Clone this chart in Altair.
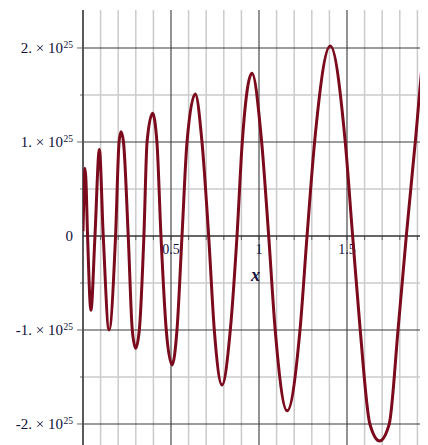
import altair as alt
import pandas as pd

# ---- values (y in units of 1e25) ----
curve_x = [0.000, 0.005, 0.011, 0.016, 0.026, 0.045, 0.068, 0.093, 0.115, 0.148,
           0.185, 0.205, 0.216, 0.230, 0.257, 0.280, 0.299, 0.320, 0.346, 0.364,
           0.395, 0.420, 0.443, 0.473, 0.506, 0.534, 0.5625, 0.591, 0.638, 0.676,
           0.714, 0.746, 0.790, 0.837, 0.875, 0.905, 0.960, 1.015, 1.055, 1.092,
           1.160, 1.233, 1.273, 1.316, 1.405, 1.490, 1.532, 1.575, 1.630, 1.685,
           1.740, 1.790, 1.837, 1.888, 1.939, 1.960]
curve_y = [0.05, 0.45, 0.72, 0.62, 0.00, -0.79, 0.00, 0.92, 0.00, -1.00,
           0.00, 1.00, 1.11, 1.00, 0.00, -1.00, -1.195, -1.00, 0.00, 1.00,
           1.305, 1.00, 0.00, -1.00, -1.372, -1.00, 0.00, 1.00, 1.51, 1.00,
           0.00, -1.00, -1.585, -1.00, 0.00, 1.00, 1.73, 1.00, 0.00, -1.00,
           -1.86, -1.00, 0.00, 1.00, 2.02, 1.00, 0.00, -1.00, -2.00, -2.18,
           -2.00, -1.00, 0.00, 1.00, 2.00, 2.19]

x_minor = [0.1, 0.2, 0.3, 0.4, 0.6, 0.7, 0.8, 0.9, 1.1, 1.2, 1.3, 1.4, 1.6, 1.7, 1.8, 1.9]
x_major = [0.5, 1.0, 1.5]
x_tick_labels = ["0.5", "1", "1.5"]
y_minor = [-1.5, -0.5, 0.5, 1.5]
y_major = [-2, -1, 1, 2]
y_tick_labels = ["-2. \u00d7 10", "-1. \u00d7 10", "1. \u00d7 10", "2. \u00d7 10"]
y_exponent = "25"
zero_label = "0"
x_title = "x"

PLOT_W = 337
PLOT_H = 435
PX_PER_X = 176.0
PX_PER_Y = 94.0
XDOM = [0, PLOT_W / PX_PER_X]
YTOP = 2.404
YDOM = [YTOP - PLOT_H / PX_PER_Y, YTOP]

FONT = "Liberation Serif"
TXT = "#10103a"
CURVE = "#7a0a1c"

xs = alt.Scale(domain=XDOM, nice=False, zero=False)
ys = alt.Scale(domain=YDOM, nice=False, zero=False)

def X(f="x"):
    return alt.X(f"{f}:Q", scale=xs, axis=None)

def Y(f="y"):
    return alt.Y(f"{f}:Q", scale=ys, axis=None)

vminor = alt.Chart(pd.DataFrame({"x": x_minor})).mark_rule(color="#cbcbcb", strokeWidth=1.5).encode(x=X())
hminor = alt.Chart(pd.DataFrame({"y": y_minor})).mark_rule(color="#cbcbcb", strokeWidth=1.5).encode(y=Y())
vmajor = alt.Chart(pd.DataFrame({"x": x_major})).mark_rule(color="#3a3a3a", strokeWidth=1.1).encode(x=X())
hmajor = alt.Chart(pd.DataFrame({"y": y_major})).mark_rule(color="#3a3a3a", strokeWidth=1.1).encode(y=Y())

yaxis_line = alt.Chart(pd.DataFrame({"x": [0]})).mark_rule(color="#5a5a5a", strokeWidth=2).encode(x=X())
xaxis_line = alt.Chart(pd.DataFrame({"y": [0]})).mark_rule(color="#333333", strokeWidth=1.6).encode(y=Y())

xt = x_minor + x_major
xticks = alt.Chart(pd.DataFrame({"x": xt, "y": [0] * len(xt)})).mark_tick(
    orient="vertical", size=4, thickness=1, yOffset=2, color="#333333").encode(x=X(), y=Y())
yticks_minor = alt.Chart(pd.DataFrame({"x": [0] * len(y_minor), "y": y_minor})).mark_tick(
    orient="horizontal", size=3, thickness=1, xOffset=-1.5, color="#333333").encode(x=X(), y=Y())
yticks_major = alt.Chart(pd.DataFrame({"x": [0] * len(y_major), "y": y_major})).mark_tick(
    orient="horizontal", size=6, thickness=1, xOffset=-3, color="#333333").encode(x=X(), y=Y())

xlab = alt.Chart(pd.DataFrame({"x": x_major, "y": [0] * 3, "t": x_tick_labels})).mark_text(
    font=FONT, fontSize=14, color=TXT, align="center", baseline="alphabetic", dy=18.5
).encode(x=X(), y=Y(), text="t:N")

ylab = alt.Chart(pd.DataFrame({"x": [0] * 4, "y": y_major, "t": y_tick_labels})).mark_text(
    font=FONT, fontSize=15, color=TXT, align="right", baseline="alphabetic", dx=-20, dy=5.5
).encode(x=X(), y=Y(), text="t:N")
yexp = alt.Chart(pd.DataFrame({"x": [0] * 4, "y": y_major, "t": [y_exponent] * 4})).mark_text(
    font=FONT, fontSize=9.5, color=TXT, align="right", baseline="alphabetic", dx=-10, dy=0
).encode(x=X(), y=Y(), text="t:N")
ylab0 = alt.Chart(pd.DataFrame({"x": [0], "y": [0], "t": [zero_label]})).mark_text(
    font=FONT, fontSize=15, color=TXT, align="right", baseline="middle", dx=-10, dy=0
).encode(x=X(), y=Y(), text="t:N")

xtitle = alt.Chart(pd.DataFrame({"x": [0.98], "y": [0], "t": [x_title]})).mark_text(
    font=FONT, fontSize=18, fontStyle="italic", fontWeight="bold", color=TXT,
    align="center", baseline="middle", dy=40
).encode(x=X(), y=Y(), text="t:N")

curve = alt.Chart(pd.DataFrame({"x": curve_x, "y": curve_y})).mark_line(
    color=CURVE, strokeWidth=3, interpolate="monotone", clip=True
).encode(x=X(), y=Y(), order="x:Q")

chart = alt.layer(
    vminor, hminor, vmajor, hmajor, yaxis_line, xaxis_line,
    xticks, yticks_minor, yticks_major,
    xlab, ylab, yexp, ylab0, xtitle, curve
).properties(
    width=PLOT_W, height=PLOT_H,
    autosize=alt.AutoSizeParams(type="none"),
    padding={"left": 75, "top": 2, "right": 0, "bottom": 0},
).configure_view(stroke=None)

chart.save("out.html", embed_options={"renderer": "svg", "actions": False})
